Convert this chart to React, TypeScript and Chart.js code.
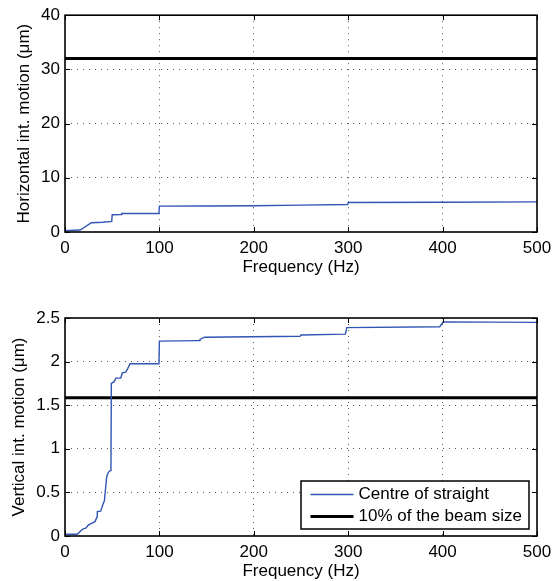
import React, { useEffect, useRef } from 'react';
import { Chart, registerables } from 'chart.js';
Chart.register(...registerables);

// ---- data ----
const freqTicks = [0, 100, 200, 300, 400, 500];
const hTicks = [0, 10, 20, 30, 40];
const vTicks = [0, 0.5, 1, 1.5, 2, 2.5];

const hFreq = [0, 16, 28, 40, 49.5, 50, 59.5, 60, 99.5, 100, 150, 200, 250, 299.5, 300, 400, 500];
const hMotion = [0.25, 0.37, 1.72, 1.8, 1.96, 3.18, 3.2, 3.42, 3.42, 4.78, 4.8, 4.84, 4.95, 5.08, 5.45, 5.5, 5.56];

const vFreq = [0, 13, 18.7, 22, 24.7, 28, 31.8, 34, 34.2, 37.8, 40.6, 41.7, 44.2, 45.9, 47.7, 48.7, 49.1, 52, 54, 59, 60.7, 64.3, 66.4, 69, 99.5, 100, 142, 143, 148, 249, 250, 297, 298.5, 397, 400.5, 500];
const vMotion = [0.02, 0.02, 0.08, 0.09, 0.125, 0.145, 0.165, 0.22, 0.28, 0.285, 0.375, 0.4, 0.68, 0.73, 0.75, 0.87, 1.75, 1.77, 1.81, 1.81, 1.87, 1.88, 1.92, 1.975, 1.975, 2.235, 2.24, 2.255, 2.28, 2.29, 2.305, 2.315, 2.39, 2.4, 2.455, 2.45];

const hLimit = 32;
const vLimit = 1.585;
const freqRange = [0, 500];

const seriesLabel = 'Centre of straight';
const limitLabel = '10% of the beam size';
const xTitle = 'Frequency (Hz)';
const hTitle = 'Horizontal int. motion (\u03bcm)';
const vTitle = 'Vertical int. motion (\u03bcm)';

// ---- styles ----
const FONT = '"Liberation Sans", Arial, Helvetica, sans-serif';
const BLUE = '#3155b4';

const framePlugin = {
  id: 'frameTicks',
  afterDatasetsDraw(chart: any) {
    const { ctx, chartArea, scales } = chart;
    const { left, right, top, bottom } = chartArea;
    ctx.save();
    ctx.strokeStyle = '#000';
    ctx.lineWidth = 1;
    const tl = 5;
    ctx.beginPath();
    scales.x.ticks.forEach((t: any) => {
      const px = Math.round(scales.x.getPixelForValue(t.value)) + 0.5;
      ctx.moveTo(px, bottom);
      ctx.lineTo(px, bottom - tl);
      ctx.moveTo(px, top);
      ctx.lineTo(px, top + tl);
    });
    scales.y.ticks.forEach((t: any) => {
      const py = Math.round(scales.y.getPixelForValue(t.value)) + 0.5;
      ctx.moveTo(left, py);
      ctx.lineTo(left + tl, py);
      ctx.moveTo(right, py);
      ctx.lineTo(right - tl, py);
    });
    ctx.stroke();
    ctx.lineWidth = 1.6;
    ctx.strokeRect(left, top, right - left, bottom - top);
    ctx.restore();
  },
};

const legendPlugin = {
  id: 'boxLegend',
  afterDraw(chart: any) {
    const { ctx, chartArea } = chart;
    const w = 228;
    const h = 48;
    const x = chartArea.right - 8 - w;
    const y = chartArea.bottom - 7 - h;
    ctx.save();
    ctx.fillStyle = '#fff';
    ctx.fillRect(x, y, w, h);
    ctx.strokeStyle = '#000';
    ctx.lineWidth = 1.5;
    ctx.strokeRect(x, y, w, h);
    chart.data.datasets.forEach((ds: any, i: number) => {
      const cy = y + 13.5 + i * 22;
      ctx.strokeStyle = ds.borderColor;
      ctx.lineWidth = ds.borderWidth;
      ctx.beginPath();
      ctx.moveTo(x + 9.5, cy);
      ctx.lineTo(x + 52.5, cy);
      ctx.stroke();
      ctx.fillStyle = '#000';
      ctx.font = '17px ' + FONT;
      ctx.textBaseline = 'middle';
      ctx.textAlign = 'left';
      ctx.fillText(ds.label, x + 57.5, cy);
    });
    ctx.restore();
  },
};

function makeConfig(p: {
  freq: number[];
  motion: number[];
  limit: number;
  yTicks: number[];
  yTitle: string;
  yTitlePad: number;
  padTop: number;
  xHeight: number;
  xTitlePad: number;
  legend: boolean;
}): any {
  const gridColor = (ctx: any) => {
    const n = ctx.scale.ticks.length;
    return ctx.index === 0 || ctx.index === n - 1 ? 'rgba(0,0,0,0)' : 'rgba(60,60,60,0.85)';
  };
  return {
    type: 'line',
    data: {
      datasets: [
        {
          label: seriesLabel,
          data: p.freq.map((f, i) => ({ x: f, y: p.motion[i] })),
          borderColor: BLUE,
          borderWidth: 1.4,
          pointRadius: 0,
          tension: 0,
          fill: false,
        },
        {
          label: limitLabel,
          data: freqRange.map((f) => ({ x: f, y: p.limit })),
          borderColor: '#000',
          borderWidth: 3,
          pointRadius: 0,
          fill: false,
        },
      ],
    },
    options: {
      responsive: false,
      animation: false,
      events: [],
      layout: { padding: { top: p.padTop, right: 21, left: 0, bottom: 0 } },
      plugins: { legend: { display: false }, tooltip: { enabled: false } },
      scales: {
        x: {
          type: 'linear',
          min: freqRange[0],
          max: freqRange[1],
          afterBuildTicks: (s: any) => {
            s.ticks = freqTicks.map((v) => ({ value: v }));
          },
          afterFit: (s: any) => {
            s.height = p.xHeight;
          },
          ticks: {
            color: '#000',
            font: { family: FONT, size: 17 },
            padding: 6,
            maxRotation: 0,
            callback: (v: any) => String(v),
          },
          grid: { color: gridColor, lineWidth: 1, drawTicks: false },
          border: { display: false, dash: [1, 5] },
          title: {
            display: true,
            text: xTitle,
            color: '#000',
            font: { family: FONT, size: 17, lineHeight: 1 },
            padding: { top: 0, bottom: p.xTitlePad },
          },
        },
        y: {
          type: 'linear',
          min: p.yTicks[0],
          max: p.yTicks[p.yTicks.length - 1],
          afterBuildTicks: (s: any) => {
            s.ticks = p.yTicks.map((v) => ({ value: v }));
          },
          afterFit: (s: any) => {
            s.width = 65;
          },
          ticks: {
            color: '#000',
            font: { family: FONT, size: 17 },
            padding: 5,
            callback: (v: any) => String(v),
          },
          grid: { color: gridColor, lineWidth: 1, drawTicks: false },
          border: { display: false, dash: [1, 5] },
          title: {
            display: true,
            text: p.yTitle,
            color: '#000',
            font: { family: FONT, size: 17, lineHeight: 1 },
            padding: { top: p.yTitlePad, bottom: 0 },
          },
        },
      },
    },
    plugins: p.legend ? [framePlugin, legendPlugin] : [framePlugin],
  };
}

export default function App() {
  const topRef = useRef<HTMLCanvasElement>(null);
  const botRef = useRef<HTMLCanvasElement>(null);

  useEffect(() => {
    const c1 = new Chart(
      topRef.current!,
      makeConfig({
        freq: hFreq,
        motion: hMotion,
        limit: hLimit,
        yTicks: hTicks,
        yTitle: hTitle,
        yTitlePad: 16,
        padTop: 14,
        xHeight: 58,
        xTitlePad: 14.5,
        legend: false,
      })
    );
    const c2 = new Chart(
      botRef.current!,
      makeConfig({
        freq: vFreq,
        motion: vMotion,
        limit: vLimit,
        yTicks: vTicks,
        yTitle: vTitle,
        yTitlePad: 11,
        padTop: 28,
        xHeight: 45,
        xTitlePad: 1,
        legend: true,
      })
    );
    return () => {
      c1.destroy();
      c2.destroy();
    };
  }, []);

  return (
    <div style={{ position: 'absolute', left: 0, top: 0, width: 558, height: 581, background: '#fff' }}>
      <canvas ref={topRef} width={558} height={290} style={{ position: 'absolute', left: 0, top: 0, display: 'block' }} />
      <canvas ref={botRef} width={558} height={291} style={{ position: 'absolute', left: 0, top: 290, display: 'block' }} />
    </div>
  );
}
